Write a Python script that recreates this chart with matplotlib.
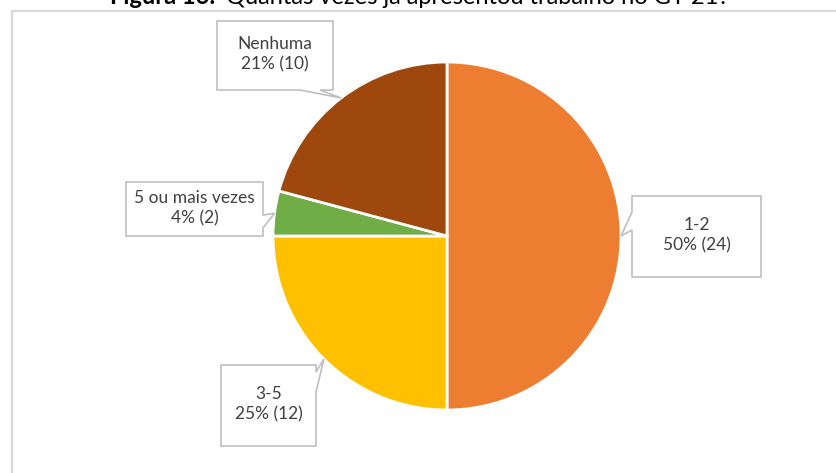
import numpy as np
import matplotlib
matplotlib.use("Agg")
import matplotlib.pyplot as plt
from matplotlib.patches import Polygon

categories = ["1-2", "3-5", "5 ou mais vezes", "Nenhuma"]
counts = [24, 12, 2, 10]
colors = ["#ED7D31", "#FFC000", "#70AD47", "#9E480E"]

W, H = 836, 473
plt.rcParams["font.family"] = ["Lato", "DejaVu Sans"]


def py(y):
    # pixel row (top-down) to axes y (bottom-up)
    return H - y


fig = plt.figure(figsize=(W / 100, H / 100), dpi=100)
ax = fig.add_axes([0, 0, 1, 1])

# chart frame
ax.plot([11, W + 5], [py(10.5), py(10.5)], color="#D9D9D9", lw=1.6, solid_capstyle="butt")
ax.plot([11.5, 11.5], [py(10), -5], color="#D9D9D9", lw=1.6, solid_capstyle="butt")

ax.text(110, py(4), "Figura 16:", fontsize=17, fontweight="bold", color="black",
        ha="left", va="baseline")
ax.text(226, py(4), "Quantas vezes já apresentou trabalho no GT 21?", fontsize=17,
        color="black", ha="left", va="baseline")

cx, cy, r = 447, py(236), 174
wedges, _ = ax.pie(counts, colors=colors, startangle=90, counterclock=False,
                   center=(cx, cy), radius=r, frame=True,
                   wedgeprops=dict(edgecolor="white", linewidth=2))
ax.set_xlim(0, W)
ax.set_ylim(0, H)
ax.set_aspect("equal")
ax.axis("off")

total = sum(counts)

# callout boxes: (x0, y0, x1, y1) in pixel rows, side of the pointer, pointer base along side
boxes = {
    "Nenhuma": ((217, 21, 333, 90), "bottom", (300, 320)),
    "5 ou mais vezes": ((126, 182, 263, 236), "right", (215, 228)),
    "1-2": ((632, 196, 761, 277), "left", (212, 230)),
    "3-5": ((221, 365, 316, 446), "right", (372, 392)),
}

for wedge, cat, n in zip(wedges, categories, counts):
    ang = np.deg2rad((wedge.theta1 + wedge.theta2) / 2)
    tip = (cx + r * np.cos(ang), cy + r * np.sin(ang))
    (x0, y0, x1, y1), side, (b0, b1) = boxes[cat]
    X0, X1, Y0, Y1 = x0, x1, py(y0), py(y1)
    if side == "bottom":
        verts = [(X0, Y0), (X1, Y0), (X1, Y1), (b1, Y1), tip, (b0, Y1), (X0, Y1)]
    elif side == "right":
        verts = [(X0, Y0), (X1, Y0), (X1, py(b0)), tip, (X1, py(b1)), (X1, Y1), (X0, Y1)]
    else:
        verts = [(X0, Y0), (X1, Y0), (X1, Y1), (X0, Y1), (X0, py(b1)), tip, (X0, py(b0))]
    ax.add_patch(Polygon(verts, closed=True, facecolor="white", edgecolor="#BFBFBF",
                         lw=1.2, zorder=5))
    pct = round(n / total * 100)
    ax.text((X0 + X1) / 2, (Y0 + Y1) / 2 + 1, f"{cat}\n{pct}% ({n})", ha="center",
            va="center", fontsize=12.5, color="#404040", linespacing=1.3, zorder=6)

fig.savefig("out.png", dpi=100, facecolor="white")
